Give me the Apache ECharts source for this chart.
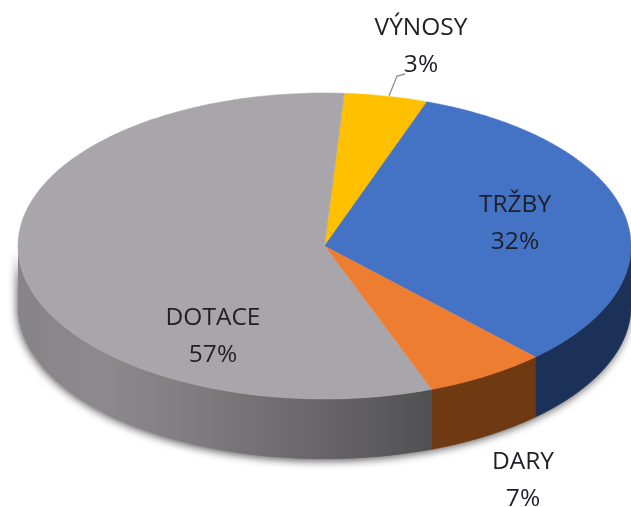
<!DOCTYPE html>
<html><head><meta charset="utf-8">
<style>html,body{margin:0;padding:0;background:#fff}#c{width:631px;height:507px}</style>
<script src="https://cdn.jsdelivr.net/npm/echarts@6/dist/echarts.min.js"></script>
</head><body><div id="c"></div>
<script>
// Drawn shares of the ellipse (clockwise from the first slice)
const names = ['VÝNOSY', 'TRŽBY', 'DARY', 'DOTACE'];
const percentLabels = ['3%', '32%', '7%', '57%'];
const drawnShares = [4.4, 32.5, 6.4, 56.7];
const startAngleDeg = 3.7; // clockwise from top of the ellipse

const topColors = ['#ffc000', '#4472c4', '#ed7d31', '#a9a6ab'];
const sideColors = ['#a07800', '#1c3158', '#6f3a12', null];
const DEPTH = 60 / 153; // side height in unit-ellipse radii

const total = drawnShares.reduce((a, b) => a + b, 0);
let acc = 0;
const sliceRows = drawnShares.map((v, i) => {
  const a = startAngleDeg + acc / total * 360;
  acc += v;
  return [a, startAngleDeg + acc / total * 360, i];
});

const rad = d => d * Math.PI / 180;
const unit = d => [Math.sin(rad(d)), Math.cos(rad(d))];

function arc(api, a, b, dy) {
  const pts = [], n = Math.max(2, Math.ceil(Math.abs(b - a) / 1));
  for (let k = 0; k <= n; k++) {
    const u = unit(a + (b - a) * k / n);
    pts.push(api.coord([u[0], u[1] - dy]));
  }
  return pts;
}
function sidePoints(api, a, b) {
  return arc(api, a, b, 0).concat(arc(api, a, b, DEPTH).reverse());
}
function visibleRange(a, b) {
  const lo = Math.max(a, 90), hi = Math.min(b, 270);
  return hi > lo ? [lo, hi] : null;
}
const graySide = {
  type: 'linear', x: 0, y: 0, x2: 1, y2: 0,
  colorStops: [
    { offset: 0, color: '#868488' }, { offset: 0.2, color: '#8d8a8e' },
    { offset: 0.42, color: '#807d81' }, { offset: 0.7, color: '#6b686b' },
    { offset: 1, color: '#505052' }
  ]
};

const axisOff = { type: 'value', min: -1, max: 1, show: false };
const chart = echarts.init(document.getElementById('c'), null, { renderer: 'canvas' });
chart.setOption({
  animation: false,
  backgroundColor: '#ffffff',
  grid: { left: 18, top: 93, width: 614, height: 306 },
  xAxis: axisOff,
  yAxis: axisOff,
  tooltip: { show: false },
  series: [
    {
      type: 'custom', name: 'shadow', coordinateSystem: 'cartesian2d', clip: false, silent: true, z: 1,
      data: [[90, 270]],
      encode: { x: 0, y: 1 },
      renderItem: (p, api) => ({
        type: 'polygon',
        shape: { points: sidePoints(api, 90, 270) },
        style: { fill: '#777', shadowBlur: 8, shadowColor: 'rgba(0,0,0,0.65)', shadowOffsetX: -1, shadowOffsetY: 2 }
      })
    },
    {
      type: 'custom', name: 'sides', coordinateSystem: 'cartesian2d', clip: false, silent: true, z: 2,
      data: sliceRows,
      encode: { x: 0, y: 1 },
      renderItem: (p, api) => {
        const i = api.value(2), r = visibleRange(api.value(0), api.value(1));
        if (!r) return { type: 'group', children: [] };
        const fill = sideColors[i] || graySide;
        return { type: 'polygon', shape: { points: sidePoints(api, r[0], r[1]) },
          style: { fill: fill, stroke: sideColors[i] || null, lineWidth: 0.5 } };
      }
    },
    {
      type: 'custom', name: 'tops', coordinateSystem: 'cartesian2d', clip: false, silent: true, z: 3,
      data: sliceRows,
      encode: { x: 0, y: 1 },
      renderItem: (p, api) => {
        const i = api.value(2);
        const pts = [api.coord([0, 0])].concat(arc(api, api.value(0), api.value(1), 0));
        return { type: 'polygon', shape: { points: pts },
          style: { fill: topColors[i], stroke: topColors[i], lineWidth: 0.5 } };
      }
    }
  ],
  graphic: [
    { type: 'polyline', z: 10, shape: { points: [[389, 96], [397, 76], [405, 74]] },
      style: { stroke: '#8f8f8f', lineWidth: 1.3, fill: null } }
  ].concat([[421, 47], [515, 224], [523, 481], [213, 337]].map((pos, i) => ({
    type: 'text', z: 10, x: pos[0], y: pos[1],
    style: {
      text: names[i] + '\n' + percentLabels[i],
      x: 0, y: 0, align: 'center', verticalAlign: 'middle',
      font: '24.5px "Open Sans", sans-serif', lineHeight: 37, fill: '#1f1f26'
    }
  })))
});
</script></body></html>
